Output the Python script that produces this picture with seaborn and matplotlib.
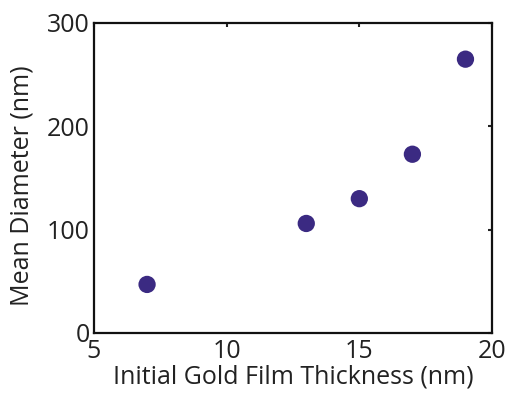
import matplotlib
matplotlib.use("Agg")
import matplotlib.pyplot as plt
import seaborn as sns
import pandas as pd

# Initial gold film thickness (nm) and resulting mean particle diameter (nm)
thickness = [7, 13, 15, 17, 19]
diameter = [47, 106, 130, 173, 265]
x_ticks = [5, 10, 15, 20]
y_ticks = [0, 100, 200, 300]

sns.set_theme(style="white")
plt.rcParams["font.family"] = ["Open Sans", "DejaVu Sans"]

df = pd.DataFrame({"thickness": thickness, "diameter": diameter})

fig = plt.figure(figsize=(5.07, 3.94), dpi=100)
ax = fig.add_axes([94 / 507, 1 - 333 / 394, 398 / 507, 310 / 394])

sns.scatterplot(data=df, x="thickness", y="diameter", ax=ax,
                color="#3b2a82", s=155, edgecolor="none", zorder=3, clip_on=False)

ax.set_xlim(5, 20)
ax.set_ylim(0, 300)
ax.set_xticks(x_ticks)
ax.set_yticks(y_ticks)
ax.tick_params(direction="in", length=3, width=1.5, top=True, right=True,
               labelsize=18, colors="#222222", pad=3)
ax.tick_params(axis="x", pad=4)
for s in ax.spines.values():
    s.set_visible(True)
    s.set_linewidth(1.6)
    s.set_color("#111111")

ax.set_xlabel("Initial Gold Film Thickness (nm)", fontsize=18, color="#222222", labelpad=1)
ax.set_ylabel("Mean Diameter (nm)", fontsize=18, color="#222222")
ax.yaxis.set_label_coords(-0.15, 0.474)

fig.savefig("out.png", dpi=100, facecolor="white")
